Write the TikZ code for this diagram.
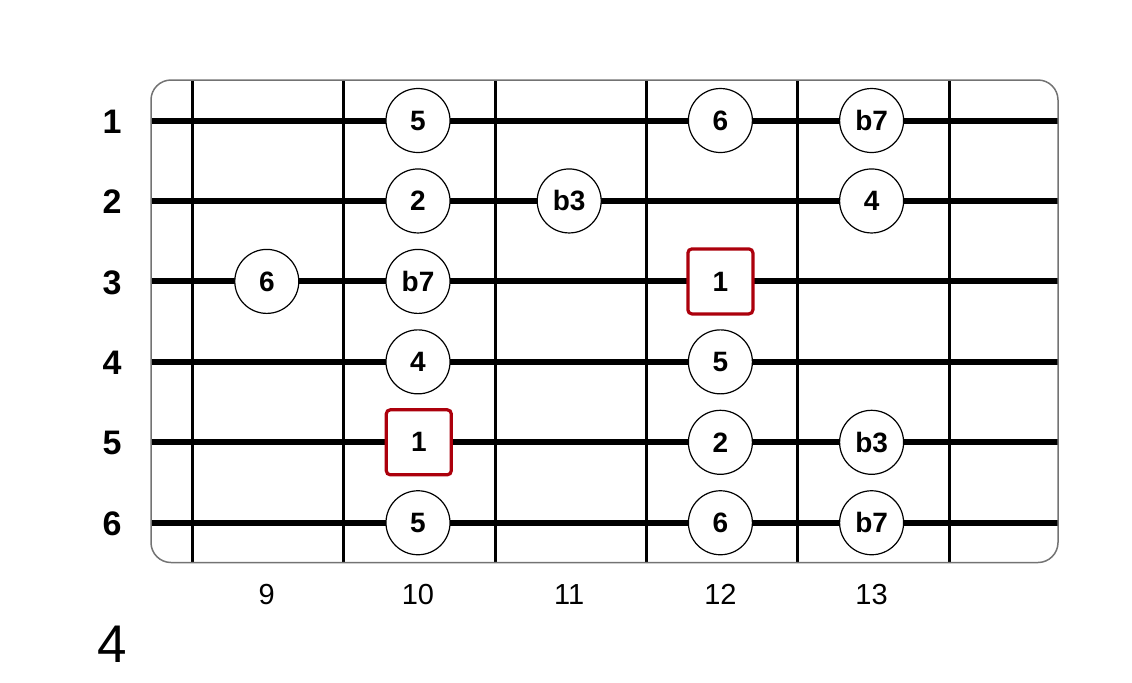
\documentclass[tikz,border=0pt]{standalone}
\usepackage{fontspec}
\setmainfont{Liberation Sans}
\definecolor{rootred}{RGB}{172,0,12}
\tikzset{
    note/.style={circle, draw=black, line width=0.6pt, fill=white, minimum size=32pt, inner sep=0pt, font=\bfseries\fontsize{14}{15}\selectfont},
    rootnote/.style={rectangle, draw=rootred, line width=1.6pt, fill=white, rounded corners=2pt, minimum size=32.5pt, inner sep=0pt, font=\bfseries\fontsize{14}{15}\selectfont},
    strnum/.style={font=\bfseries\fontsize{17}{18}\selectfont, inner sep=0pt},
    fretnum/.style={font=\fontsize{14.5}{15}\selectfont, inner sep=0pt, anchor=base}
}
\begin{document}
\begin{tikzpicture}[x=0.5pt, y=-0.5pt]
    \useasboundingbox (0,0) rectangle (1132,682);
    % frets
    \foreach \i in {0,...,5}{
        \draw[line width=1.5pt](192.5+151.3*\i, 80) -- (192.5+151.3*\i, 562.5);
    }
    % strings
    \foreach \s in {1,...,6}{
        \draw[line width=3pt](151, 120.5+80.45*\s-80.45) -- (1058, 120.5+80.45*\s-80.45);
        \node[strnum] (s\s) at (112, 121.5+80.45*\s-80.45) {\s};
    }
    \draw[draw=black!55, line width=0.75pt, rounded corners=10pt](151, 80) rectangle (1058, 562.5);

    % fret numbers
    \foreach \f in {9,...,13}{
        \node[fretnum] (f\f) at (266.8+151.2*\f-1360.8, 604) {\f};
    }

    % scale tones
    \foreach \s/\f/\t in {1/10/5, 1/12/6, 1/13/b7, 2/10/2, 2/11/b3, 2/13/4,
        3/9/6, 3/10/b7, 4/10/4, 4/12/5, 5/12/2, 5/13/b3, 6/10/5, 6/12/6, 6/13/b7}{
        \node[note] (n\s-\f) at (266.8+151.2*\f-1360.8, 120.5+80.45*\s-80.45) {\t};
    }
    % roots
    \node[rootnote] (n3-12) at (720.4, 281.4) {1};
    \node[rootnote] (n5-10) at (418.8, 442.3) {1};

    \node[font=\fontsize{26.5}{27}\selectfont, inner sep=0pt] (pos) at (112, 644) {4};
\end{tikzpicture}
\end{document}
